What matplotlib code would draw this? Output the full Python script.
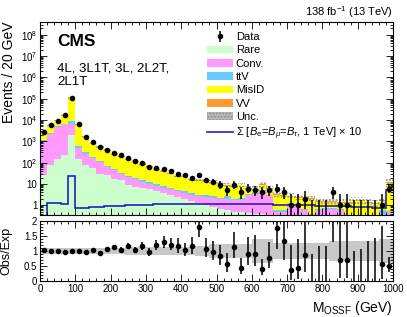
import numpy as np
import matplotlib
matplotlib.use("Agg")
import matplotlib.pyplot as plt
from matplotlib.patches import Patch
from matplotlib.lines import Line2D
from matplotlib.ticker import MultipleLocator, LogLocator, FuncFormatter, NullFormatter

plt.rcParams['font.family'] = ['Liberation Sans', 'DejaVu Sans']
plt.rcParams['mathtext.fontset'] = 'custom'
plt.rcParams['mathtext.rm'] = 'Liberation Sans'
plt.rcParams['mathtext.it'] = 'Liberation Sans:italic'
plt.rcParams['mathtext.bf'] = 'Liberation Sans:bold'

# 20 GeV bins, 0 - 1000 GeV
edges = np.arange(0, 1001, 20)
centers = 0.5 * (edges[1:] + edges[:-1])

data = np.array([2800, 5700, 9500, 17000, 110000, 6300, 1650, 890, 540, 410,
                 285, 222, 168, 118, 99, 64, 57, 53, 40, 28,
                 25, 19, 27, 15, 12, 9, 5, 9, 4, 6,
                 5, 4, 5, 6, 4, 1, 1, 2, 0, 0,
                 0, 4, 1, 1, 0, 0, 0, 0, 1, 6])

rare = np.array([25, 75, 155, 230, 1900, 150, 80, 54, 31, 26,
                 18, 15, 9, 7.5, 6.5, 5.5, 4.5, 3.6, 3.0, 2.4,
                 2.0, 1.6, 1.3, 1.0, 0.8, 0.7, 0.6, 0.5, 0.5, 0.45,
                 0.4, 0.4, 0.35, 0.3, 0.3, 0.25, 0.25, 0.2, 0.2, 0.2,
                 0.15, 0.15, 0.15, 0.15, 0.1, 0.1, 0.1, 0.1, 0.1, 0.2])
conv = np.array([975, 2225, 4545, 5970, 4900, 350, 170, 116, 74, 38,
                 26, 15, 12, 9.5, 6.5, 4.5, 3.5, 2.9, 2.5, 2.1,
                 1.8, 1.6, 1.5, 1.4, 1.4, 1.3, 1.4, 1.3, 1.2, 2.55,
                 3.1, 4.1, 2.65, 0.2, 0.2, 0.95, 0.75, 0.4, 0.1, 0.4,
                 0.55, 0.55, 0.45, 0.15, 0.1, 0.1, 0.1, 0.1, 0.1, 0.3])
ttv = np.array([100, 200, 300, 400, 2100, 80, 50, 20, 13, 8,
                6, 4, 3, 3, 2.5, 2, 1.5, 1.5, 1.0, 0.8,
                0.7, 0.6, 0.4, 0.5, 0.4, 0.3, 0.6, 0.2, 0.5, 0.3,
                0.1, 0.5, 0.2, 0.1, 0.1, 0.1, 0.1, 0.1, 0.1, 0.05,
                0.05, 0.05, 0.05, 0.05, 0.05, 0.05, 0.1, 0.05, 0.4, 0.05])
misid = np.array([1460, 2850, 3930, 9680, 92500, 5230, 1300, 615, 412, 281,
                  186, 163, 111, 88, 63.5, 50, 35, 30, 24, 17,
                  18, 11.5, 10.7, 10, 8.9, 7.8, 5.7, 5.3, 6.3, 2.8,
                  1.5, 4.2, 2.8, 2.5, 2.1, 1.3, 1.1, 1.45, 1.5, 0.8,
                  0.7, 0.7, 0.6, 0.95, 1.45, 1.35, 0.98, 0.95, 1.05, 10.5])
vv = np.array([190, 400, 670, 1220, 7600, 440, 120, 60, 40, 27,
               18, 15, 10, 8, 6, 5, 3.5, 3, 2.5, 1.7,
               2, 1.2, 1.1, 1.1, 1.0, 0.9, 0.7, 0.7, 0.8, 0.5,
               0.4, 0.8, 0.5, 0.3, 0.3, 0.2, 0.2, 0.2, 0.2, 0.15,
               0.15, 0.15, 0.15, 0.15, 0.16, 0.14, 0.12, 0.1, 0.15, 0.95])
# relative total uncertainty
unc = np.array([0.10] * 12 + [0.12] * 6 + [0.14] * 4 + [0.17] * 2 + [0.24] * 6
               + [0.40] * 3 + [0.28] * 8 + [0.35] * 7 + [0.40] * 2)
signal = np.array([0.001, 1.3, 1.3, 1.15, 24, 0.72, 0.75, 0.8, 0.85, 0.9,
                   0.93, 0.95, 0.98, 1.0, 1.05, 1.08, 1.1, 1.12, 1.15, 1.15,
                   1.18, 1.18, 1.18, 1.18, 1.18, 1.18, 1.15, 1.15, 1.15, 1.12,
                   1.12, 1.1, 1.1, 1.08, 1.05, 1.05, 1.02, 1.0, 0.98, 0.95,
                   0.93, 0.9, 0.9, 0.88, 0.85, 0.82, 0.8, 0.78, 0.75, 5.0])

comps = [rare, conv, ttv, misid, vv]
names = ['Rare', 'Conv.', 'ttV', 'MisID', 'VV']
colors = ['#ccffcc', '#ff99ff', '#66ccff', '#ffff00', '#ff9933']
total = rare + conv + ttv + misid + vv

err_up = np.sqrt(data + 0.75) + 1
err_dn = np.sqrt(np.clip(data - 0.25, 0, None))
nz = data > 0

fig = plt.figure(figsize=(4.07, 3.17), dpi=100)
ax = fig.add_axes([0.0983, 0.3218, 0.8673, 0.6088])
rax = fig.add_axes([0.0983, 0.1136, 0.8673, 0.1892], sharex=ax)

# stacked backgrounds
bottom = np.full(len(total), 1e-3)
for vals, col in zip(comps, colors):
    top = bottom + vals
    ax.stairs(top, edges, baseline=bottom, fill=True, color=col, lw=0)
    bottom = top

ax.stairs(total * (1 + unc), edges, baseline=total * (1 - unc), fill=True,
          facecolor='none', edgecolor='#8c8c8c', hatch='.....', lw=0)

ax.stairs(signal, edges, baseline=None, color='#2020c8', lw=1.2)

h_data = ax.errorbar(centers[nz], data[nz], yerr=[err_dn[nz], err_up[nz]], fmt='o',
                     color='k', ms=3, elinewidth=1.1, capsize=0)
ax.vlines(centers[~nz], 1e-3, err_up[~nz], color='k', lw=1.1)

ax.set_yscale('log')
ax.set_ylim(0.35, 4e8)
ax.set_xlim(0, 1000)

def ylab(v, pos):
    if v == 1:
        return '1'
    if v == 10:
        return '10'
    return r'$10^{%d}$' % round(np.log10(v))

ax.yaxis.set_major_locator(LogLocator(base=10, numticks=20))
ax.yaxis.set_minor_locator(LogLocator(base=10, subs=np.arange(2, 10), numticks=20))
ax.yaxis.set_major_formatter(FuncFormatter(ylab))
ax.yaxis.set_minor_formatter(NullFormatter())
ax.tick_params(labelbottom=False)

# ratio panel
ratio = data / total
rax.stairs(1 + unc, edges, baseline=1 - unc, fill=True, color='#c8c8c8', lw=0)
rax.errorbar(centers[nz], ratio[nz], yerr=[err_dn[nz] / total[nz], err_up[nz] / total[nz]],
             fmt='o', color='k', ms=3, elinewidth=1.1, capsize=0)
rax.vlines(centers[~nz], 0, err_up[~nz] / total[~nz], color='k', lw=1.1)
rax.set_ylim(0, 2)
rax.yaxis.set_major_locator(MultipleLocator(0.5))
rax.yaxis.set_minor_locator(MultipleLocator(0.1))
rax.yaxis.set_major_formatter(FuncFormatter(lambda v, p: '%g' % v))
rax.xaxis.set_major_locator(MultipleLocator(100))
rax.xaxis.set_minor_locator(MultipleLocator(20))

for a in (ax, rax):
    a.tick_params(which='both', direction='in', top=True, right=True, labelsize=7, pad=2)
    a.tick_params(which='major', length=5, width=0.6)
    a.tick_params(which='minor', length=2.5, width=0.6)
    for s in a.spines.values():
        s.set_linewidth(0.8)

ax.set_ylabel('Events / 20 GeV', loc='top', fontsize=10)
ax.yaxis.set_label_coords(-0.068, 1.0)
rax.set_ylabel('Obs/Exp', fontsize=9)
rax.yaxis.set_label_coords(-0.078, 0.5)
rax.set_xlabel(r'M$_{\rm OSSF}$ (GeV)', loc='right', fontsize=10)
rax.xaxis.set_label_coords(1.0, -0.3)

ax.text(0.048, 0.90, 'CMS', transform=ax.transAxes, fontsize=12.5,
        fontweight='bold', va='center')
ax.text(0.048, 0.79, '4L, 3L1T, 3L, 2L2T,\n2L1T', transform=ax.transAxes,
        fontsize=9.5, va='top', linespacing=1.15)
fig.text(0.966, 0.962, r'138 fb$^{-1}$ (13 TeV)', ha='right', va='center', fontsize=8)

handles = [h_data] + [Patch(facecolor=c, edgecolor='none') for c in colors]
handles += [Patch(facecolor='#bbbbbb', edgecolor='#8c8c8c', hatch='.....', lw=0),
            Line2D([], [], color='#2020c8', lw=1.2)]
labels = ['Data'] + names + ['Unc.',
                             r'$\Sigma$ [$B_{\rm e}$=$B_{\mu}$=$B_{\tau}$, 1 TeV] $\times$ 10']
ax.legend(handles, labels, loc='upper left', bbox_to_anchor=(0.473, 0.948),
          frameon=False, fontsize=8, handlelength=2.3, handleheight=0.7,
          labelspacing=0.3, handletextpad=0.3, borderaxespad=0, borderpad=0)

fig.savefig('out.png', dpi=100)
